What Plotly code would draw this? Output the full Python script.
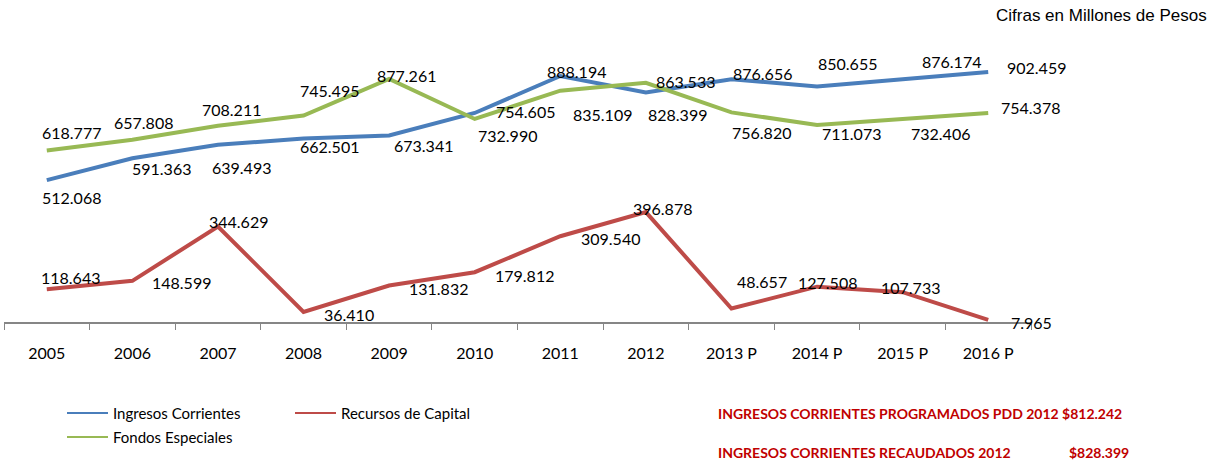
import plotly.graph_objects as go

# ---------------------------------------------------------------------------
# Data (millones de pesos)
# ---------------------------------------------------------------------------
YEARS = ["2005", "2006", "2007", "2008", "2009", "2010", "2011", "2012",
         "2013 P", "2014 P", "2015 P", "2016 P"]
INGRESOS_CORRIENTES = [512068, 591363, 639493, 662501, 673341, 754605,
                       888194, 828399, 876656, 850655, 876174, 902459]
RECURSOS_CAPITAL = [118643, 148599, 344629, 36410, 131832, 179812,
                    309540, 396878, 48657, 127508, 107733, 7965]
FONDOS_ESPECIALES = [618777, 657808, 708211, 745495, 877261, 732990,
                     835109, 863533, 756820, 711073, 732406, 754378]

PROGRAMADOS_2012 = 812242
RECAUDADOS_2012 = 828399

# label placement (pixels: left edge dx from point, centre dy downwards)
OFFSETS_INGRESOS = [(-7, 17), (-2, 10), (-8, 23), (-6, 8), (3, 10), (19, -1),
                    (-15, -4), (0, 22), (0, -6), (-1, -23), (17, -18), (17, -5)]
OFFSETS_RECURSOS = [(-8, -12), (18, 2), (-11, -5), (18, 3), (18, 3), (18, 3),
                    (19, 2), (-15, -4), (4, -27), (-21, -4), (-24, -5), (21, 3)]
OFFSETS_FONDOS = [(-7, -18), (-20, -17), (-18, -16), (-6, -25), (-14, -4), (1, 17),
                  (11, 24), (8, -1), (-1, 20), (3, 8), (6, 14), (11, -6)]

BLUE = "#4A7EBB"
RED = "#BE4B48"
GREEN = "#98B954"
NOTE_RED = "#C00000"
FONT = "Lato"

W, H = 1211, 463
M_L, M_R, M_T, M_B = 4, 180, 45, 141
PLOT_W = W - M_L - M_R
PLOT_H = H - M_T - M_B


def fmt(v):
    return f"{v:,}".replace(",", ".")


def px(x):
    return (x - M_L) / PLOT_W


def py(y):
    return (H - M_B - y) / PLOT_H


series = [
    ("Ingresos Corrientes", INGRESOS_CORRIENTES, BLUE, OFFSETS_INGRESOS),
    ("Recursos de Capital", RECURSOS_CAPITAL, RED, OFFSETS_RECURSOS),
    ("Fondos Especiales", FONDOS_ESPECIALES, GREEN, OFFSETS_FONDOS),
]

fig = go.Figure()
annotations = []

for name, values, color, offsets in series:
    fig.add_trace(go.Scatter(
        x=YEARS, y=values, mode="lines", name=name,
        line=dict(color=color, width=4),
        showlegend=False,
    ))
    # category axis: annotations are placed by category index
    for i, (v, (dx, dy)) in enumerate(zip(values, offsets)):
        annotations.append(dict(
            x=i, y=v, xref="x", yref="y", text=fmt(v), showarrow=False,
            xanchor="left", yanchor="middle", xshift=dx, yshift=-dy,
            font=dict(family=FONT, size=16, color="#000000"),
        ))

# manual legend, Excel style
legend_items = [
    ("Ingresos Corrientes", BLUE, 67, 413),
    ("Recursos de Capital", RED, 295, 413),
    ("Fondos Especiales", GREEN, 67, 437),
]
shapes = []
for name, color, x0, y0 in legend_items:
    shapes.append(dict(type="line", xref="paper", yref="paper",
                       x0=px(x0), x1=px(x0 + 41), y0=py(y0), y1=py(y0),
                       line=dict(color=color, width=2)))
    annotations.append(dict(x=px(x0 + 44), y=py(y0), xref="paper", yref="paper",
                            text=name, showarrow=False, xanchor="left", yanchor="middle",
                            font=dict(family=FONT, size=15, color="#000000")))

annotations += [
    dict(x=px(716), y=py(413), xref="paper", yref="paper",
         text=f"<b>INGRESOS CORRIENTES PROGRAMADOS PDD 2012 ${fmt(PROGRAMADOS_2012)}</b>",
         showarrow=False, xanchor="left", yanchor="middle",
         font=dict(family=FONT, size=14, color=NOTE_RED)),
    dict(x=px(716), y=py(452), xref="paper", yref="paper",
         text="<b>INGRESOS CORRIENTES RECAUDADOS 2012</b>",
         showarrow=False, xanchor="left", yanchor="middle",
         font=dict(family=FONT, size=14, color=NOTE_RED)),
    dict(x=px(1131), y=py(452), xref="paper", yref="paper",
         text=f"<b>${fmt(RECAUDADOS_2012)}</b>",
         showarrow=False, xanchor="right", yanchor="middle",
         font=dict(family=FONT, size=14, color=NOTE_RED)),
    dict(x=px(1209), y=py(15), xref="paper", yref="paper",
         text="Cifras en Millones de Pesos",
         showarrow=False, xanchor="right", yanchor="middle",
         font=dict(family="Liberation Sans", size=17, color="#000000")),
]

fig.update_layout(
    width=W, height=H,
    margin=dict(l=M_L, r=M_R, t=M_T, b=M_B),
    paper_bgcolor="white", plot_bgcolor="white",
    annotations=annotations,
    shapes=shapes,
    xaxis=dict(
        type="category", range=[-0.5, 11.5],
        showline=True, linecolor="#868686", linewidth=2,
        ticks="outside", tickson="boundaries", ticklen=6, tickcolor="#868686", tickwidth=1,
        showgrid=False, zeroline=False,
        tickfont=dict(family=FONT, size=16, color="#000000"),
        ticklabelstandoff=16,
    ),
    yaxis=dict(range=[0, 1000000], visible=False, showgrid=False, zeroline=False),
    font=dict(family=FONT),
)

# page body has a default 8px margin; drop it so the figure fills the window
fig.write_html("out.html", config={"displayModeBar": False},
               post_script="document.body.style.margin='0';")
